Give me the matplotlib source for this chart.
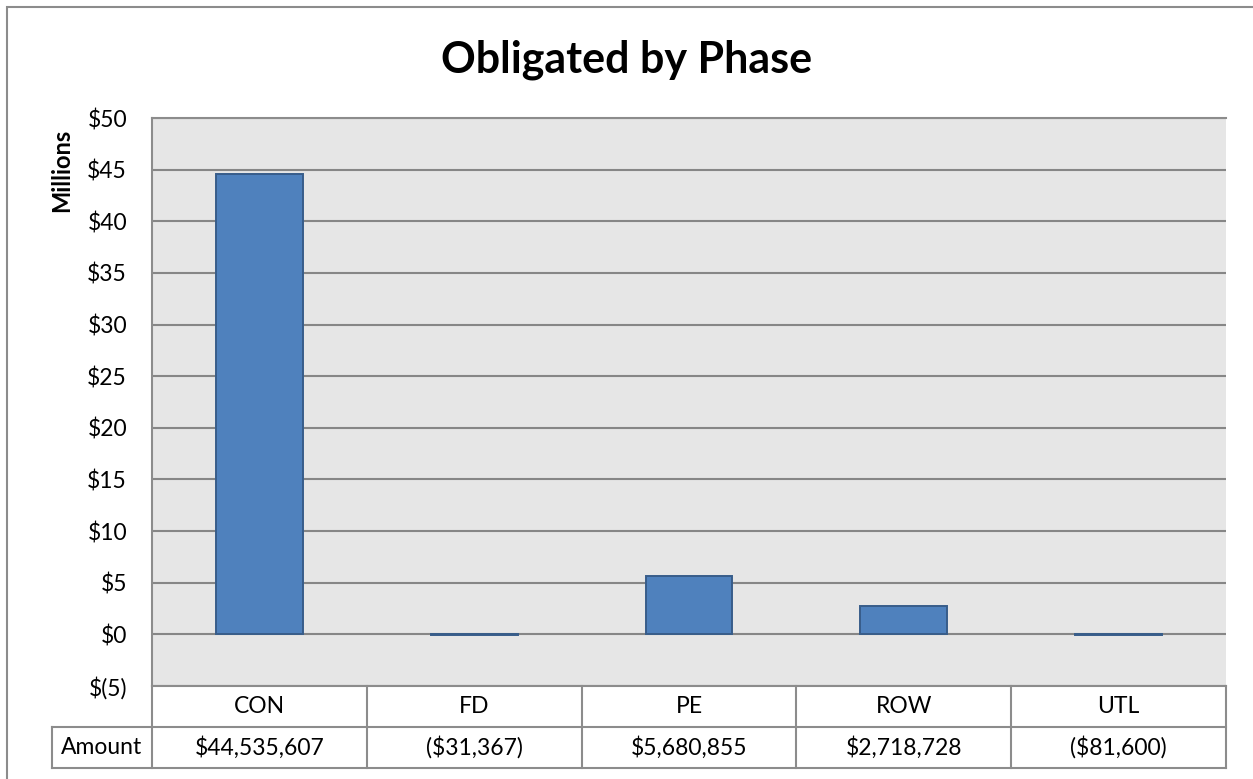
import numpy as np
import matplotlib.pyplot as plt
from matplotlib.patches import Rectangle

# data
phases = ['CON', 'FD', 'PE', 'ROW', 'UTL']
amounts = [44535607, -31367, 5680855, 2718728, -81600]
y_ticks = [-5, 0, 5, 10, 15, 20, 25, 30, 35, 40, 45, 50]

plt.rcParams['font.family'] = ['Lato', 'DejaVu Sans']

W, H = 1253, 779
fig = plt.figure(figsize=(W / 100, H / 100), dpi=100)
fig.patch.set_facecolor('white')

# outer chart border (cut off at right/bottom like the original)
fig.patches.append(Rectangle((7 / W, -0.05), 1.1, 1 - 7 / H + 0.05,
                             transform=fig.transFigure, fill=False,
                             edgecolor='#8c8c8c', linewidth=1.5))

left, right, top, bottom = 152, 1226, 118, 686
ax = fig.add_axes([left / W, 1 - bottom / H, (right - left) / W, (bottom - top) / H])
ax.set_facecolor('#e6e6e6')

x = np.arange(len(phases))
vals = np.array(amounts) / 1e6
ax.bar(x, vals, width=0.405, color='#4f81bd', edgecolor='#385d8a', linewidth=1.4, zorder=3)

ax.set_xlim(-0.5, len(phases) - 0.5)
ax.set_ylim(-5, 50)
ax.set_yticks(y_ticks)
ax.set_yticklabels(['$({})'.format(-v) if v < 0 else '${}'.format(v) for v in y_ticks],
                   fontsize=16.5)
ax.tick_params(axis='y', length=0, pad=18)
ax.set_xticks([])
ax.yaxis.grid(True, color='#868686', linewidth=1.5, zorder=1)
ax.set_axisbelow(True)
for s in ['right', 'bottom']:
    ax.spines[s].set_visible(False)
for s in ['left', 'top']:
    ax.spines[s].set_color('#8c8c8c')
    ax.spines[s].set_linewidth(1.5)

# title and axis unit label
fig.text(0.5, 1 - 60 / H, 'Obligated by Phase', ha='center', va='center',
         fontsize=31, fontweight='bold')
fig.text(62 / W, 1 - 170 / H, 'Millions', ha='center', va='center',
         rotation=90, fontsize=17, fontweight='bold')

# data table below the plot
label_w = 100 / ((right - left) / len(phases))
tax = fig.add_axes([52 / W, 1 - 768 / H, (right - 52) / W, 82 / H])
tax.set_xlim(-0.5 - label_w, len(phases) - 0.5)
tax.set_ylim(0, 2)
tax.axis('off')
lc = '#8c8c8c'
lw = 1.5
tax.plot([-0.5, len(phases) - 0.5], [2, 2], color=lc, lw=lw, clip_on=False)
tax.plot([-0.5 - label_w, len(phases) - 0.5], [1, 1], color=lc, lw=lw, clip_on=False)
tax.plot([-0.5 - label_w, len(phases) - 0.5], [0, 0], color=lc, lw=lw, clip_on=False)
tax.plot([-0.5 - label_w, -0.5 - label_w], [0, 1], color=lc, lw=lw, clip_on=False)
for k in range(len(phases) + 1):
    tax.plot([k - 0.5, k - 0.5], [0, 2], color=lc, lw=lw, clip_on=False)


def money(v):
    s = '${:,.0f}'.format(abs(v))
    return '({})'.format(s) if v < 0 else s


tax.text(-0.5 - label_w / 2, 0.5, 'Amount', ha='center', va='center', fontsize=16.5)
for i, (p, a) in enumerate(zip(phases, amounts)):
    tax.text(i, 1.5, p, ha='center', va='center', fontsize=16.5)
    tax.text(i, 0.5, money(a), ha='center', va='center', fontsize=16.5)

fig.savefig('out.png', dpi=100)
